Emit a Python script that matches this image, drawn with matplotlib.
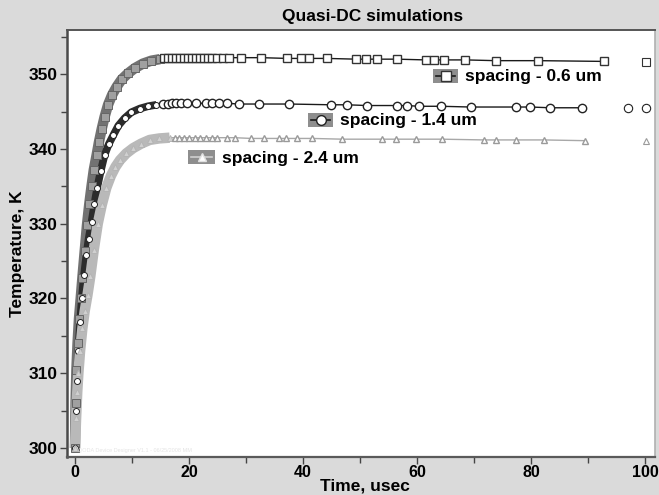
import matplotlib
matplotlib.use("Agg")
import matplotlib.pyplot as plt
from matplotlib.patches import Rectangle
from matplotlib.lines import Line2D
from matplotlib.ticker import MultipleLocator

plt.rcParams["font.family"] = ["Liberation Sans", "DejaVu Sans"]
plt.rcParams["font.weight"] = "bold"

W, H = 659, 495

# spacing 0.6 um: dense start-up samples, then sparse plateau samples
t_06_rise = [0.0, 0.1, 0.25, 0.45, 0.7, 1.0, 1.3, 1.7, 2.1, 2.5, 2.9, 3.3, 3.8,
             4.2, 4.7, 5.2, 5.8, 6.5, 7.3, 8.2, 9.3, 10.5, 11.9, 13.4, 14.9]
T_06_rise = [300.0, 306.0, 310.5, 314.0, 317.3, 320.0, 322.8, 326.3, 329.8, 332.6,
             335.0, 337.2, 339.2, 340.9, 342.7, 344.3, 345.9, 347.2, 348.3, 349.3,
             350.1, 350.8, 351.4, 351.8, 352.0]
t_06_flat = [15.6, 16.3, 17.0, 17.7, 18.4, 19.1, 19.8, 20.5, 21.2, 22.0, 22.7, 23.4,
             24.1, 25.0, 25.9, 27.1, 29.2, 32.7, 37.2, 39.7, 41.1, 44.2, 49.3, 51.0,
             53.0, 56.5, 61.5, 62.9, 64.7, 68.5, 73.8, 81.3, 92.8]
T_06_flat = [352.1, 352.1, 352.2, 352.2, 352.2, 352.2, 352.2, 352.2, 352.2, 352.2,
             352.2, 352.2, 352.2, 352.2, 352.2, 352.2, 352.2, 352.2, 352.1, 352.1,
             352.1, 352.1, 352.0, 352.0, 352.0, 352.0, 351.9, 351.9, 351.9, 351.9,
             351.8, 351.8, 351.7]
t_06_end = [100.2]
T_06_end = [351.6]

# spacing 1.4 um
t_14_rise = [0.0, 0.15, 0.35, 0.6, 0.9, 1.2, 1.6, 2.0, 2.4, 2.9, 3.4, 3.9, 4.5,
             5.2, 5.9, 6.7, 7.6, 8.7, 9.9, 11.4, 12.8, 14.3]
T_14_rise = [300.0, 305.0, 309.0, 313.0, 316.8, 320.0, 323.2, 325.8, 328.0, 330.2,
             332.6, 334.8, 337.0, 339.2, 340.6, 341.8, 343.1, 344.1, 344.9, 345.4,
             345.7, 345.9]
t_14_flat = [15.5, 16.3, 17.0, 17.8, 18.6, 19.6, 21.3, 23.0, 24.1, 25.2, 26.6, 28.8,
             32.3, 37.6, 44.9, 47.7, 51.2, 56.5, 58.2, 60.3, 64.2, 69.4, 77.4, 79.9,
             83.4, 89.0]
T_14_flat = [346.0, 346.0, 346.1, 346.1, 346.1, 346.1, 346.1, 346.1, 346.1, 346.1,
             346.1, 346.0, 346.0, 346.0, 345.9, 345.9, 345.8, 345.8, 345.8, 345.7,
             345.7, 345.6, 345.6, 345.6, 345.5, 345.5]
t_14_end = [97.0, 100.2]
T_14_end = [345.5, 345.5]

# spacing 2.4 um
t_24_rise = [0.0, 0.2, 0.4, 0.6, 0.9, 1.3, 1.7, 2.2, 2.7, 3.3, 4.0, 4.7, 5.5, 6.3,
             7.1, 7.9, 9.0, 10.2, 11.6, 13.1, 14.8, 16.6]
T_24_rise = [300.0, 304.0, 307.5, 310.0, 313.0, 316.0, 318.3, 320.5, 323.0, 326.5,
             330.0, 332.5, 334.8, 336.4, 337.6, 338.5, 339.4, 340.1, 340.7, 341.2,
             341.4, 341.5]
t_24_flat = [17.5, 18.3, 19.2, 20.0, 21.0, 22.0, 23.0, 24.0, 25.0, 26.7, 28.0, 30.9,
             33.2, 35.8, 37.1, 39.0, 41.6, 46.9, 53.8, 56.3, 59.8, 64.3, 71.7, 73.9,
             77.3, 82.2, 89.5]
T_24_flat = [341.5, 341.5, 341.5, 341.5, 341.5, 341.5, 341.5, 341.5, 341.5, 341.5,
             341.5, 341.4, 341.4, 341.4, 341.4, 341.4, 341.4, 341.3, 341.3, 341.3,
             341.3, 341.3, 341.2, 341.2, 341.2, 341.2, 341.1]
t_24_end = [100.2]
T_24_end = [341.0]

labels = ["spacing - 0.6 um", "spacing - 1.4 um", "spacing - 2.4 um"]
title = "Quasi-DC simulations"
xlabel = "Time, usec"
ylabel = "Temperature, K"

BG = "#dadada"

fig = plt.figure(figsize=(W / 100, H / 100), dpi=100, facecolor=BG)
ax = fig.add_axes([67 / W, 1 - 457 / H, (655 - 67) / W, (457 - 30) / H])
ax.set_facecolor("white")

styles = [
    dict(band="#727272", bw=7.5, m="s", rms=5.5, rfc="#a0a0a0", rec="#666666",
         lc="#1a1a1a", ms=5.5, ec="#333333"),
    dict(band="#2c2c2c", bw=5.5, m="o", rms=4.3, rfc="white", rec="#222222",
         lc="#1a1a1a", ms=6.0, ec="#222222"),
    dict(band="#b9b9b9", bw=7.5, m="^", rms=4.5, rfc="#d0d0d0", rec="#b4b4b4",
         lc="#a8a8a8", ms=4.5, ec="#9a9a9a"),
]
series = [
    (t_06_rise, T_06_rise, t_06_flat, T_06_flat, t_06_end, T_06_end),
    (t_14_rise, T_14_rise, t_14_flat, T_14_flat, t_14_end, T_14_end),
    (t_24_rise, T_24_rise, t_24_flat, T_24_flat, t_24_end, T_24_end),
]

for (tr, Tr, tf, Tf, te, Te), s in zip(series, styles):
    ax.plot(tr, Tr, color=s["band"], lw=s["bw"], solid_capstyle="butt", zorder=2)
    ax.plot(tr, Tr, ls="none", marker=s["m"], ms=s["rms"], mfc=s["rfc"],
            mec=s["rec"], mew=0.7, zorder=3)
    ax.plot([tr[-1]] + tf, [Tr[-1]] + Tf, color=s["lc"], lw=1.0, zorder=2)
    ax.plot(tf, Tf, ls="none", marker=s["m"], ms=s["ms"], mfc="white",
            mec=s["ec"], mew=1.0, zorder=3)
    ax.plot(te, Te, ls="none", marker=s["m"], ms=s["ms"], mfc="white",
            mec=s["ec"], mew=0.8, zorder=3, clip_on=False)

# x = 0 sits at 75 px and x = 100 at 645 px
ax.set_xlim(-1.4, 101.75)
ax.set_ylim(298.8, 355.9)
ax.xaxis.set_major_locator(MultipleLocator(20))
ax.xaxis.set_minor_locator(MultipleLocator(10))
ax.yaxis.set_major_locator(MultipleLocator(10))
ax.yaxis.set_minor_locator(MultipleLocator(5))
ax.tick_params(which="both", direction="out", color="#444444", width=1.0,
               labelsize=11.5, pad=2)
ax.tick_params(which="major", length=5)
ax.tick_params(which="minor", length=4)
ax.tick_params(axis="x", pad=1)
ax.tick_params(axis="y", labelsize=12.5)
for lab in ax.get_xticklabels() + ax.get_yticklabels():
    lab.set_fontweight("bold")

ax.spines["left"].set_color("#4a4a4a")
ax.spines["left"].set_linewidth(1.8)
ax.spines["bottom"].set_color("#5a5a5a")
ax.spines["bottom"].set_linewidth(1.6)
ax.spines["top"].set_color("#555555")
ax.spines["top"].set_linewidth(1.4)
ax.spines["right"].set_color("#b0b0b0")
ax.spines["right"].set_linewidth(1.2)

ax.text(0.6, 299.3, "QODA Device Designer V1.1 - 06/25/2008 MM", fontsize=4,
        color="#e4e4e4", fontweight="normal", va="bottom")

fig.text(373 / W, 1 - 16 / H, title, ha="center", va="center",
         fontsize=12.5, fontweight="bold")
fig.text(365 / W, 1 - 486 / H, xlabel, ha="center", va="center",
         fontsize=12.5, fontweight="bold")
fig.text(18 / W, 1 - 254 / H, ylabel, ha="center", va="center",
         rotation=90, fontsize=12.5, fontweight="bold")


def fx(px):
    return px / W


def fy(py):
    return 1 - py / H


# label tags: grey swatch holding the series symbol, then the text
tags = [(433, 458, 76, 465), (308, 333, 120, 340), (188, 215, 157, 222)]
for (x0, x1, yc, xt), s, text in zip(tags, styles, labels):
    tri = s["m"] == "^"
    fig.add_artist(Rectangle((fx(x0), fy(yc + 7)), fx(x1 - x0), (14 / H),
                             transform=fig.transFigure, facecolor="#8e8e8e",
                             edgecolor="none"))
    fig.add_artist(Line2D([fx(x0 + 3), fx(x1 - 3)], [fy(yc), fy(yc)],
                          transform=fig.transFigure,
                          color="#cfcfcf" if tri else s["lc"], lw=1.2))
    fig.add_artist(Line2D([fx((x0 + x1) / 2)], [fy(yc)], transform=fig.transFigure,
                          ls="none", marker=s["m"], ms=s["ms"] + 1, mfc="white",
                          mec="#e0e0e0" if tri else s["ec"], mew=1.0))
    fig.text(fx(xt), fy(yc + 1), text, ha="left", va="center", fontsize=12.5,
             fontweight="bold")

fig.savefig("out.png", dpi=100, facecolor=BG)
